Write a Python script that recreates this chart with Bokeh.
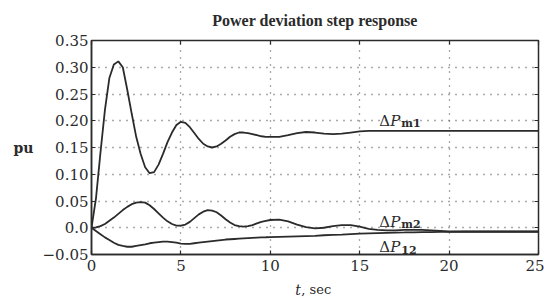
from bokeh.plotting import figure
from bokeh.models import FixedTicker, LinearAxis, Label, ColumnDataSource, Range1d
from bokeh.layouts import column
from bokeh.embed import file_html
from bokeh.resources import INLINE

# ---------------- data ----------------
t = [0.0, 0.25, 0.5, 0.75, 1.0, 1.25, 1.5, 1.75, 2.0, 2.25, 2.5, 2.75, 3.0, 3.25, 3.5, 3.75,
     4.0, 4.25, 4.5, 4.75, 5.0, 5.25, 5.5, 5.75, 6.0, 6.25, 6.5, 6.75, 7.0, 7.25, 7.5, 7.75,
     8.0, 8.25, 8.5, 8.75, 9.0, 9.25, 9.5, 9.75, 10.0,
     10.5, 11.0, 11.5, 12.0, 12.5, 13.0, 13.5, 14.0, 14.5, 15.0, 15.5, 16.0, 16.5, 17.0,
     17.5, 18.0, 18.5, 19.0, 19.5, 20.0,
     21.0, 22.0, 23.0, 24.0, 25.0]

dPm1 = [0.0, 0.055, 0.14, 0.22, 0.28, 0.305, 0.311, 0.300, 0.258, 0.213, 0.170, 0.138, 0.113,
        0.102, 0.104, 0.118, 0.138, 0.160, 0.178, 0.192, 0.198, 0.196, 0.188, 0.177, 0.166,
        0.157, 0.152, 0.150, 0.152, 0.157, 0.163, 0.170, 0.175, 0.178, 0.178, 0.177, 0.175,
        0.173, 0.171, 0.170, 0.170,
        0.170, 0.173, 0.177, 0.179, 0.178, 0.176, 0.175, 0.176, 0.178, 0.180, 0.181, 0.181,
        0.181, 0.181, 0.181, 0.181, 0.181, 0.181, 0.181, 0.181,
        0.181, 0.181, 0.181, 0.181, 0.181]

dPm2 = [0.0, 0.0005, 0.003, 0.007, 0.013, 0.019, 0.026, 0.033, 0.039, 0.044, 0.047, 0.048,
        0.047, 0.042, 0.035, 0.027, 0.019, 0.012, 0.007, 0.004, 0.004, 0.006, 0.011, 0.018,
        0.025, 0.030, 0.033, 0.032, 0.029, 0.023, 0.016, 0.010, 0.005, 0.003, 0.002, 0.003,
        0.005, 0.008, 0.011, 0.013, 0.0145,
        0.015, 0.012, 0.006, 0.001, -0.001, 0.000, 0.003, 0.005, 0.005, 0.002, -0.002, -0.004,
        -0.005, -0.005, -0.004, -0.004, -0.004, -0.005, -0.006, -0.007,
        -0.007, -0.007, -0.007, -0.007, -0.007]

dP12 = [0.0, -0.006, -0.012, -0.018, -0.023, -0.028, -0.032, -0.034, -0.0355, -0.0355, -0.034,
        -0.0325, -0.031, -0.029, -0.028, -0.027, -0.026, -0.026, -0.027, -0.028, -0.0295,
        -0.030, -0.030, -0.029, -0.028, -0.027, -0.026, -0.025, -0.024, -0.023, -0.022,
        -0.0215, -0.021, -0.0205, -0.020, -0.0195, -0.019, -0.0185, -0.018, -0.0178, -0.0175,
        -0.017, -0.0165, -0.016, -0.0155, -0.015, -0.014, -0.0135, -0.013, -0.012, -0.011,
        -0.0105, -0.010, -0.0095, -0.009, -0.0088, -0.0085, -0.0082, -0.008, -0.0078, -0.0076,
        -0.0075, -0.0075, -0.0075, -0.0075, -0.0075]

x_ticks = [0, 5, 10, 15, 20, 25]
y_ticks = [-0.05, 0.0, 0.05, 0.10, 0.15, 0.20, 0.25, 0.30, 0.35]
y_tick_labels = ["\u22120.05", "0.0", "0.05", "0.10", "0.15", "0.20", "0.25", "0.30", "0.35"]

title_text = "Power deviation step response"
y_label = "pu"
x_label_var = "t"
x_label_unit = ", sec"
curve_names = [("P", "m1"), ("P", "m2"), ("P", "12")]
label_t = 16.1
label_y = [0.200, 0.011, -0.036]

# ---------------- figure ----------------
SERIF = "DejaVu Serif"
INK = "#2b2b2b"

xr = Range1d(0, 25)

p = figure(width=544, height=278, x_range=xr, y_range=(-0.05, 0.35),
           output_backend="svg", toolbar_location=None,
           min_border_left=91, min_border_right=6, min_border_top=40, min_border_bottom=24)

p.title.text = title_text
p.title.align = "center"
p.title.vertical_align = "top"
p.title.text_font = "Liberation Serif"
p.title.text_font_size = "16px"
p.title.text_font_style = "bold"
p.title.text_color = INK
p.title.standoff = 20

p.outline_line_color = INK
p.outline_line_width = 1.5
p.background_fill_color = "white"
p.border_fill_color = "white"

xt = FixedTicker(ticks=x_ticks)
yt = FixedTicker(ticks=y_ticks)

p.xaxis.ticker = xt
p.yaxis.ticker = yt
p.yaxis.major_label_overrides = {v: s for v, s in zip(y_ticks, y_tick_labels)}

for ax in (p.xaxis[0], p.yaxis[0]):
    ax.major_label_text_font = SERIF
    ax.major_label_text_font_size = "15px"
    ax.major_label_text_color = INK
    ax.axis_line_color = INK
    ax.axis_line_width = 1.5
    ax.major_tick_in = 4
    ax.major_tick_out = 0
    ax.major_tick_line_color = INK
    ax.major_tick_line_width = 1.2
    ax.minor_tick_line_color = None

p.xaxis.major_label_standoff = 5
p.yaxis.major_label_standoff = 3

p.yaxis.axis_label = y_label
p.yaxis.axis_label_orientation = "horizontal"
p.yaxis.axis_label_text_font = SERIF
p.yaxis.axis_label_text_font_size = "14px"
p.yaxis.axis_label_text_font_style = "bold"
p.yaxis.axis_label_text_color = INK
p.yaxis.axis_label_standoff = 6

# inner ticks on top and right (no labels)
def tick_only_axis(ticks):
    return LinearAxis(ticker=FixedTicker(ticks=ticks), major_label_text_font_size="1px",
                      major_label_text_color=None, major_label_standoff=0,
                      major_tick_in=4, major_tick_out=0,
                      major_tick_line_color=INK, major_tick_line_width=1.2,
                      minor_tick_line_color=None, axis_line_color=None)

p.add_layout(tick_only_axis(x_ticks), "above")
p.add_layout(tick_only_axis(y_ticks), "right")

p.xgrid.ticker = xt
p.ygrid.ticker = yt
for g in (p.xgrid[0], p.ygrid[0]):
    g.grid_line_color = "#555555"
    g.grid_line_dash = "1 6"
    g.grid_line_width = 1.3

src = ColumnDataSource(dict(t=t, m1=dPm1, m2=dPm2, p12=dP12))
for col in ("m1", "m2", "p12"):
    p.line("t", col, source=src, line_color=INK, line_width=1.8)

# curve labels: Delta + italic P + subscript
for (letter, sub), yv in zip(curve_names, label_y):
    p.add_layout(Label(x=label_t, y=yv, text="\u0394", text_font=SERIF, text_font_size="15px",
                       text_color=INK, text_baseline="alphabetic", text_align="left"))
    p.add_layout(Label(x=label_t, y=yv, x_offset=11, text=letter, text_font=SERIF,
                       text_font_size="15px", text_font_style="italic", text_color=INK,
                       text_baseline="alphabetic", text_align="left"))
    p.add_layout(Label(x=label_t, y=yv, x_offset=22, y_offset=-3, text=sub, text_font=SERIF,
                       text_font_size="11px", text_font_style="bold", text_color=INK,
                       text_baseline="alphabetic", text_align="left"))

# strip below for the x axis label: italic t + ", sec"
p2 = figure(width=544, height=20, x_range=xr, y_range=Range1d(0, 1),
            output_backend="svg", toolbar_location=None,
            x_axis_location=None, y_axis_location=None,
            min_border_left=91, min_border_right=6, min_border_top=0, min_border_bottom=0)
p2.outline_line_color = None
p2.grid.visible = False
p2.background_fill_color = "white"
p2.border_fill_color = "white"
p2.add_layout(Label(x=11.4, y=0.45, text=x_label_var, text_font=SERIF,
                    text_font_size="14px", text_font_style="italic", text_color=INK,
                    text_baseline="middle", text_align="left"))
p2.add_layout(Label(x=11.4, y=0.45, x_offset=6, text=x_label_unit, text_font=SERIF,
                    text_font_size="13px", text_color=INK,
                    text_baseline="middle", text_align="left"))

layout = column(p, p2, spacing=0)
open("out.html", "w").write(file_html(layout, INLINE))
